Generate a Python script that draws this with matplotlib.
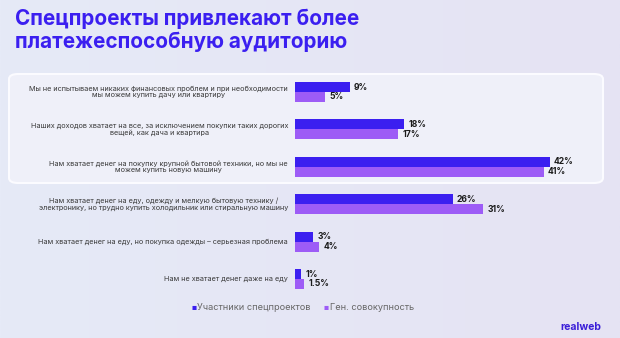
import matplotlib.pyplot as plt
from matplotlib.patches import FancyBboxPatch
from matplotlib.colors import LinearSegmentedColormap
import numpy as np

categories = [
    "Мы не испытываем никаких финансовых проблем и при необходимости\nмы можем купить дачу или квартиру",
    "Наших доходов хватает на все, за исключением покупки таких дорогих\nвещей, как дача и квартира",
    "Нам хватает денег на покупку крупной бытовой техники, но мы не\nможем купить новую машину",
    "Нам хватает денег на еду, одежду и мелкую бытовую технику /\nэлектронику, но трудно купить холодильник или стиральную машину",
    "Нам хватает денег на еду, но покупка одежды – серьезная проблема",
    "Нам не хватает денег даже на еду",
]
special = [9, 18, 42, 26, 3, 1]
general = [5, 17, 41, 31, 4, 1.5]
general_labels = ["5%", "17%", "41%", "31%", "4%", "1.5%"]
special_labels = ["9%", "18%", "42%", "26%", "3%", "1%"]
series_names = ["Участники спецпроектов", "Ген. совокупность"]

BLUE = "#3b1ff0"
PURPLE = "#9d5cf6"
BG = "#e7e8f5"
W, H = 620, 338

plt.rcParams['font.family'] = ['Inter', 'DejaVu Sans']

fig = plt.figure(figsize=(W / 100, H / 100), dpi=100)
fig.patch.set_facecolor(BG)

# soft background gradient
bg = fig.add_axes([0, 0, 1, 1], zorder=-10)
grad = np.linspace(0, 1, 256)[None, :]
cmap = LinearSegmentedColormap.from_list("bg", ["#e6eaf7", "#e5e3f3"])
bg.imshow(grad, aspect='auto', cmap=cmap, extent=[0, 1, 0, 1])
bg.axis('off')

# highlighted block for the top three answers
box = FancyBboxPatch((9 / W, 1 - 183 / H), 594 / W, 109 / H,
                     boxstyle="round,pad=0,rounding_size=0.015",
                     transform=fig.transFigure, facecolor="#eff0f9",
                     edgecolor="#fbfbff", linewidth=1.5, zorder=-5)
fig.patches.append(box)

x0, x1 = 295, 604
px_per_pct = 6.07
ax = fig.add_axes([x0 / W, 1 - 297.7 / H, (x1 - x0) / W, 224.4 / H])
ax.set_facecolor('none')
ax.set_xlim(0, (x1 - x0) / px_per_pct)
ax.set_ylim(5.5, -0.5)
ax.axis('off')

y = np.arange(len(categories))
bh = 0.267
ax.barh(y - bh / 2, special, height=bh, color=BLUE)
ax.barh(y + bh / 2, general, height=bh, color=PURPLE)

for i in range(len(categories)):
    ax.annotate(special_labels[i], (special[i], y[i] - bh / 2), xytext=(3, 0),
                textcoords='offset points', va='center', ha='left',
                fontsize=6.2, fontweight='bold', color='#1a1a1a')
    ax.annotate(general_labels[i], (general[i], y[i] + bh / 2), xytext=(3, 0),
                textcoords='offset points', va='center', ha='left',
                fontsize=6.2, fontweight='bold', color='#1a1a1a')
    ax.annotate(categories[i], (0, y[i]), xytext=(-5, 0),
                textcoords='offset points', va='center', ha='right',
                multialignment='center', fontsize=5.25, color='#3a3a3a',
                linespacing=1.05, annotation_clip=False)

fig.text(15 / W, 1 - 9 / H, "Спецпроекты привлекают более\nплатежеспособную аудиторию",
         ha='left', va='top', fontsize=14.9, fontweight='bold', color=BLUE,
         linespacing=1.15)

# legend
fig.text(192 / W, 1 - 310 / H, "■", fontsize=4, color=BLUE, va='baseline')
fig.text(197 / W, 1 - 310 / H, series_names[0], fontsize=6.6, color='#666666', va='baseline')
fig.text(324 / W, 1 - 310 / H, "■", fontsize=4, color=PURPLE, va='baseline')
fig.text(330 / W, 1 - 310 / H, series_names[1], fontsize=6.6, color='#666666', va='baseline')

fig.text(560 / W, 1 - 330 / H, "realweb", fontsize=7.5, fontweight='bold',
         color="#3b1fd8", va='baseline')

fig.savefig("out.png", dpi=100, facecolor=fig.get_facecolor())
